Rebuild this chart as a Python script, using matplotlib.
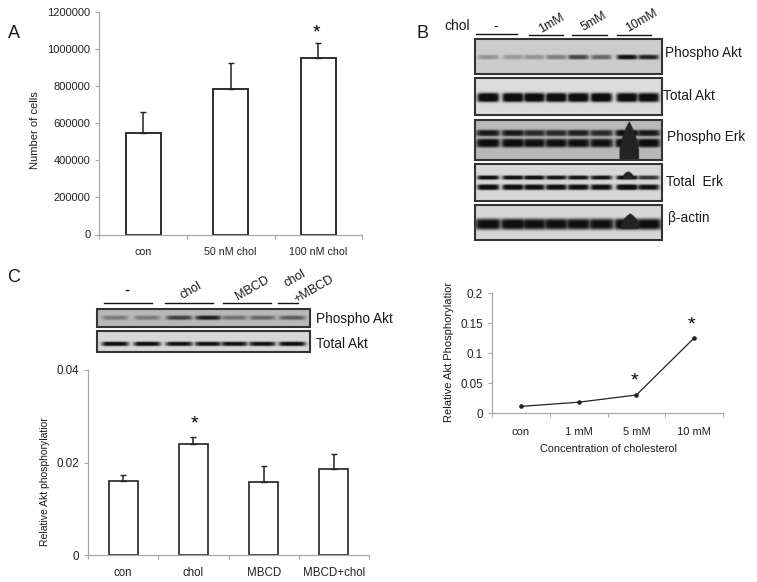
import numpy as np
import matplotlib
matplotlib.use("Agg")
import matplotlib.pyplot as plt

plt.rcParams["font.family"] = ["Liberation Sans", "DejaVu Sans"]

W, H = 757, 582

# panel A
cells_labels = ["con", "50 nM chol", "100 nM chol"]
cells_vals = [545000, 785000, 950000]
cells_err = [115000, 140000, 85000]
cells_ticks = [0, 200000, 400000, 600000, 800000, 1000000, 1200000]
cells_ticklabels = ["0", "200000", "400000", "600000", "800000", "1000000", "1200000"]

# panel C bars
rel_labels = ["con", "chol", "MBCD", "MBCD+chol"]
rel_vals = [0.016, 0.024, 0.0157, 0.0185]
rel_err = [0.0012, 0.0016, 0.0036, 0.0033]
rel_ticks = [0, 0.02, 0.04]
rel_ticklabels = ["0", "0.02", "0.04"]

# line panel
conc_labels = ["con", "1 mM", "5 mM", "10 mM"]
conc_vals = [0.011, 0.018, 0.03, 0.125]
conc_ticks = [0, 0.05, 0.1, 0.15, 0.2]
conc_ticklabels = ["0", "0.05", "0.1", "0.15", "0.2"]

# blot lanes, pixel x centres and darkness
lanes_b = [488, 513, 534, 556, 578, 601, 627, 648]
lanes_c = [115, 147, 179, 208, 234, 262, 292]

pakt_b = [0.25, 0.22, 0.25, 0.35, 0.6, 0.45, 0.85, 0.75]
takt_b = [1.0, 1.0, 0.98, 1.0, 1.0, 1.0, 0.98, 0.95]
perk_upper = [0.8, 0.8, 0.7, 0.7, 0.75, 0.7, 0.95, 0.8]
perk_lower = [0.9, 0.9, 0.85, 0.85, 0.85, 0.85, 1.0, 0.9]
terk_upper = [0.9, 0.9, 0.9, 0.85, 0.85, 0.85, 0.95, 0.7]
terk_lower = [0.95, 0.95, 0.9, 0.9, 0.9, 0.9, 1.0, 0.85]
actin_b = [0.88, 0.88, 0.85, 0.85, 0.85, 0.85, 0.92, 0.88]
pakt_c = [0.3, 0.3, 0.6, 0.75, 0.35, 0.4, 0.45]
takt_c = [0.9, 0.9, 0.85, 0.85, 0.85, 0.85, 0.9]

fig = plt.figure(figsize=(W / 100, H / 100), dpi=100, facecolor="white")
page = fig.add_axes([0, 0, 1, 1])
page.set_xlim(0, W)
page.set_ylim(H, 0)
page.axis("off")


def chart_axes(left, right, top, bottom):
    ax = fig.add_axes([left / W, 1 - bottom / H, (right - left) / W, (bottom - top) / H])
    ax.patch.set_alpha(0)
    for side in ["top", "right"]:
        ax.spines[side].set_visible(False)
    for side in ["left", "bottom"]:
        ax.spines[side].set_color("#a8a8a8")
        ax.spines[side].set_linewidth(0.9)
    return ax


def category_axis(ax, labels, pad, size):
    n = len(labels)
    ax.set_xlim(0, n)
    ax.set_xticks(range(n + 1))
    ax.set_xticklabels([])
    ax.set_xticks(np.arange(n) + 0.5, labels, minor=True, fontsize=size, color="#222222")
    ax.tick_params(axis="x", which="major", length=3, width=0.8, color="#a8a8a8")
    ax.tick_params(axis="x", which="minor", length=0, pad=pad)
    ax.tick_params(axis="y", length=3, width=0.8, color="#a8a8a8", labelcolor="#222222")


def bar_panel(ax, vals, err, width, edge):
    x = np.arange(len(vals)) + 0.5
    ax.bar(x, vals, width, facecolor="white", edgecolor=edge, linewidth=1.3)
    ax.errorbar(x, vals, yerr=[np.zeros(len(err)), err], fmt="none", ecolor="#222222",
                elinewidth=1.1, capsize=2.2, capthick=1.0)


def blot(left, right, top, bottom, lanes, bands, bg=0.82):
    # bands: (y fraction, half thickness in px, darkness per lane, lane half width)
    h = int(bottom - top) * 2
    w = int(right - left) * 2
    yy, xx = np.mgrid[0:h, 0:w]
    yy = top + yy / 2
    xx = left + xx / 2
    dark = np.zeros((h, w))
    for yfrac, thick, levels, half in bands:
        yc = top + yfrac * (bottom - top)
        for cx, lev in zip(lanes, levels):
            prof_x = np.exp(-((xx - cx) / half) ** 6)
            prof_y = np.exp(-((yy - yc) / thick) ** 4)
            dark = np.maximum(dark, lev * prof_x * prof_y)
    return left, right, top, bottom, np.clip(bg * (1 - dark * 1.1), 0.06, 1)


def draw_blot(parts, extra=None):
    left, right, top, bottom, img = parts
    if extra is not None:
        # overexposed blob on the 10 mM lane
        cx, yc, half_w, half_h = extra
        yy, xx = np.mgrid[0:img.shape[0], 0:img.shape[1]]
        yy = top + yy / 2
        xx = left + xx / 2
        blob = (np.abs(xx - cx) / half_w + ((yc - yy) / half_h) ** 2) < 1
        img = np.where(blob & (yy < yc + 3), 0.14, img)
    page.imshow(img, extent=[left, right, bottom, top], cmap="gray", vmin=0, vmax=1,
                aspect="auto", interpolation="bilinear")
    page.add_patch(plt.Rectangle((left, top), right - left, bottom - top, fill=False,
                                 edgecolor="#333333", linewidth=1.5))


# panel A
ax_a = chart_axes(99.5, 362, 12, 234.5)
bar_panel(ax_a, cells_vals, cells_err, 0.4, "#1c1c1c")
category_axis(ax_a, cells_labels, 9, 7.7)
ax_a.set_ylim(0, 1200000)
ax_a.set_yticks(cells_ticks, cells_ticklabels)
ax_a.tick_params(axis="y", labelsize=8)

# panel C bars
ax_c = chart_axes(88, 369, 370, 555)
bar_panel(ax_c, rel_vals, rel_err, 0.41, "#333333")
category_axis(ax_c, rel_labels, 9, 8.3)
ax_c.set_ylim(0, 0.04)
ax_c.set_yticks(rel_ticks, rel_ticklabels)
ax_c.tick_params(axis="y", labelsize=8.4)

# line panel
ax_l = chart_axes(492, 723, 293, 413)
ax_l.plot(np.arange(4) + 0.5, conc_vals, color="#222222", linewidth=0.9, marker="o", markersize=2.3)
category_axis(ax_l, conc_labels, 10, 8)
ax_l.set_ylim(0, 0.2)
ax_l.set_yticks(conc_ticks, conc_ticklabels)
ax_l.tick_params(axis="y", labelsize=8.4)

# blots, panel B
draw_blot(blot(475, 662, 39, 74, lanes_b, [(0.51, 2.4, pakt_b, 10.5)], bg=0.8))
draw_blot(blot(475, 662, 78, 115, lanes_b, [(0.52, 4.6, takt_b, 11)], bg=0.86))
draw_blot(blot(475, 662, 120, 160, lanes_b,
               [(0.32, 3.2, perk_upper, 12), (0.57, 4.4, perk_lower, 12)], bg=0.72),
          extra=(629, 157, 10, 36))
draw_blot(blot(475, 662, 164, 201, lanes_b,
               [(0.36, 2.1, terk_upper, 11), (0.62, 2.8, terk_lower, 11)], bg=0.84),
          extra=(628, 176, 5, 5))
draw_blot(blot(475, 662, 205, 240, lanes_b, [(0.54, 5.6, actin_b, 13.5)], bg=0.84),
          extra=(630, 226, 9, 13))

# blots, panel C
draw_blot(blot(97, 310, 309, 327, lanes_c, [(0.47, 2.2, pakt_c, 13)], bg=0.72))
draw_blot(blot(97, 310, 331, 352, lanes_c, [(0.6, 2.2, takt_c, 13.5)], bg=0.84))
page.set_xlim(0, W)
page.set_ylim(H, 0)

# underlines above lanes
for x0, x1, y in [(476, 517, 34), (529, 563, 35), (572, 607, 35), (617, 651, 35),
                  (104, 152, 302.7), (165, 213, 302.7), (223, 271, 302.7), (278, 298, 302.7)]:
    page.plot([x0, x1], [y, y], color="#111111", linewidth=1.0)


def label(x, y, s, size=9.8, **kw):
    kw.setdefault("ha", "left")
    kw.setdefault("va", "center")
    kw.setdefault("color", "#1a1a1a")
    page.text(x, y, s, fontsize=size, **kw)


# panel letters
label(8, 33, "A", 13)
label(416, 33, "B", 13)
label(7, 277, "C", 13)

# lane headers
label(444, 26, "chol", 10)
label(496, 26, "-", 10, ha="center")
label(552, 23, "1mM", 9, ha="center", rotation=30, rotation_mode="anchor")
label(594, 22, "5mM", 9, ha="center", rotation=30, rotation_mode="anchor")
label(642, 21, "10mM", 9, ha="center", rotation=30, rotation_mode="anchor")
label(127, 290, "-", 11, ha="center", fontweight="bold")
label(191, 291, "chol", 9, ha="center", rotation=30, rotation_mode="anchor")
label(252, 288, "MBCD", 9, ha="center", rotation=30, rotation_mode="anchor")
label(295, 279, "chol", 9, ha="center", rotation=30, rotation_mode="anchor")
label(314, 289, "+MBCD", 9, ha="center", rotation=30, rotation_mode="anchor")

# blot names
label(665, 53, "Phospho Akt")
label(663, 96, "Total Akt")
label(667, 137, "Phospho Erk")
label(666, 182, "Total  Erk")
label(668, 218, "β-actin")
label(316, 319, "Phospho Akt")
label(316, 344, "Total Akt")

# axis titles
label(35, 130, "Number of cells", 8, ha="center", rotation=90)
label(45, 482, "Relative Akt phosphorylatior", 7.5, ha="center", rotation=90)
label(449, 352, "Relative Akt Phosphorylatior", 8, ha="center", rotation=90)
label(608, 449, "Concentration of cholesterol", 7.8, ha="center")

# significance stars
for x, y in [(316.5, 33), (194, 424), (634, 381), (691, 325)]:
    label(x, y, "*", 14, ha="center", color="black")

fig.savefig("out.png", dpi=100)
